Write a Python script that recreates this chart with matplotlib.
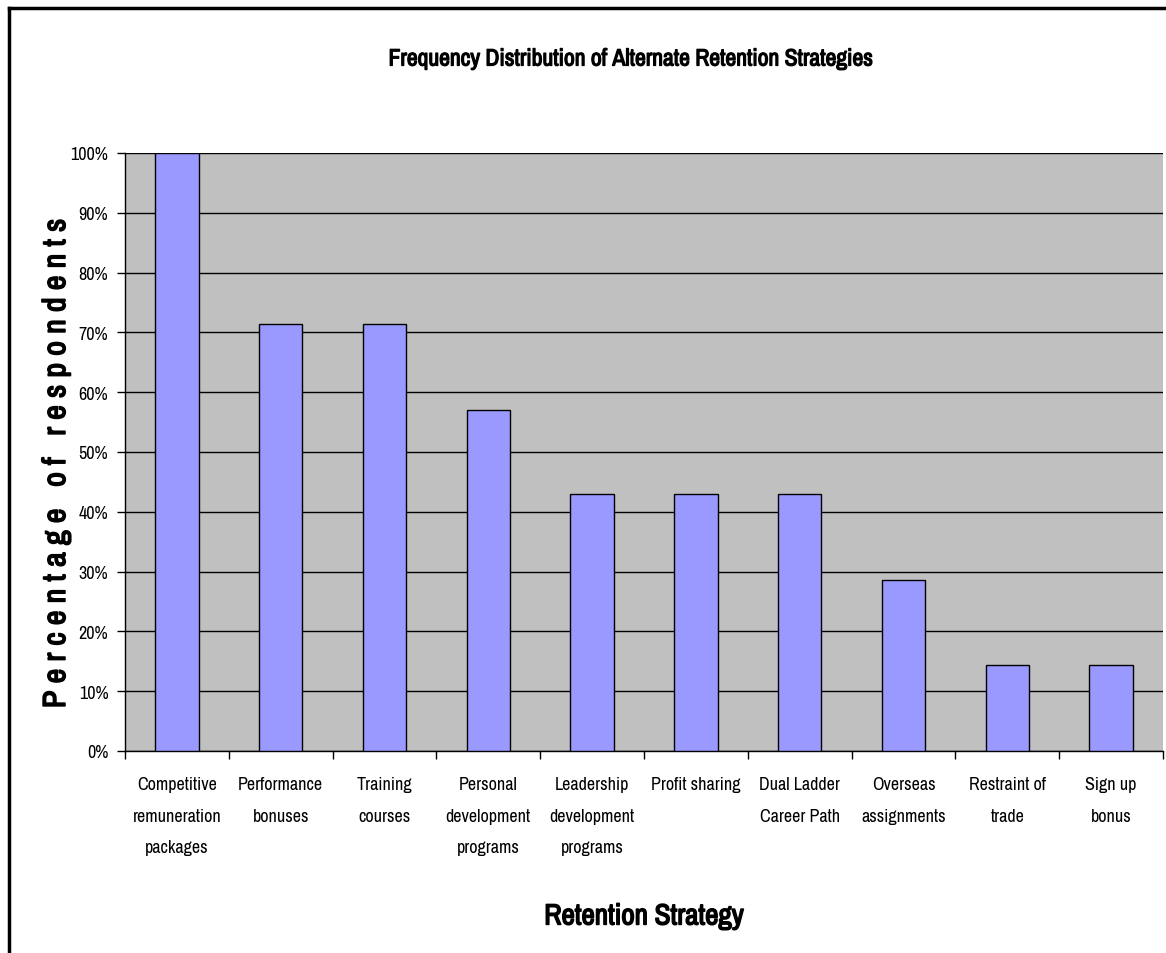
import matplotlib
matplotlib.use("Agg")
import matplotlib.pyplot as plt
import matplotlib.patheffects as pe
from matplotlib.lines import Line2D
from matplotlib.ticker import FixedLocator, NullFormatter, PercentFormatter
from matplotlib import font_manager
import numpy as np

strategies = ["Competitive\nremuneration\npackages", "Performance\nbonuses", "Training\ncourses",
              "Personal\ndevelopment\nprograms", "Leadership\ndevelopment\nprograms", "Profit sharing",
              "Dual Ladder\nCareer Path", "Overseas\nassignments", "Restraint of\ntrade", "Sign up\nbonus"]
share = [100.0, 71.4, 71.4, 57.1, 42.9, 42.9, 42.9, 28.6, 14.3, 14.3]
y_ticks = [0, 10, 20, 30, 40, 50, 60, 70, 80, 90, 100]

# pick a narrow face
names = {f.name for f in font_manager.fontManager.ttflist}
narrow = "DejaVu Sans"
for cand in ["Liberation Sans Narrow", "Archivo Narrow", "PT Sans Narrow", "Roboto Condensed", "Asap Condensed"]:
    if cand in names:
        narrow = cand
        break
plt.rcParams['font.family'] = [narrow, 'DejaVu Sans']

# thicken strokes for the heading texts
heavy = [pe.withStroke(linewidth=1.1, foreground="black")]

fig = plt.figure(figsize=(11.66, 9.54), dpi=100)
ax = fig.add_axes([125 / 1166, 1 - 752 / 954, 1038 / 1166, 598 / 954])

x = np.arange(len(share))
ax.bar(x, share, width=0.42, color="#9999FF", edgecolor="black", linewidth=1.0, zorder=3)

ax.set_facecolor("#C0C0C0")
ax.set_xlim(-0.5, len(share) - 0.5)
ax.set_ylim(0, 100)
ax.yaxis.set_major_locator(FixedLocator(y_ticks))
ax.yaxis.set_major_formatter(PercentFormatter(decimals=0))
ax.grid(axis="y", color="black", linewidth=1.0, zorder=1)

# ticks sit on category boundaries, labels at the centres
ax.xaxis.set_major_locator(FixedLocator(np.arange(-0.5, len(share), 1.0)))
ax.xaxis.set_major_formatter(NullFormatter())
ax.xaxis.set_minor_locator(FixedLocator(x))
ax.set_xticklabels(strategies, minor=True, fontsize=13, linespacing=2.2)
ax.tick_params(axis="x", which="minor", length=0, pad=18)
ax.tick_params(axis="x", which="major", length=6, width=1, direction="out")
ax.tick_params(axis="y", length=6, width=1, direction="out", labelsize=13, pad=6)

for side in ["top", "right"]:
    ax.spines[side].set_visible(False)
ax.spines["left"].set_linewidth(1.0)
ax.spines["bottom"].set_linewidth(1.0)

ax.set_ylabel("P e r c e n t a g e   o f   r e s p o n d e n t s", fontsize=23,
              fontweight="bold", path_effects=heavy)
ax.yaxis.set_label_coords(-0.053, 0.48)
ax.set_xlabel("Retention Strategy", fontsize=21, fontweight="bold", labelpad=34, path_effects=heavy)
fig.text(630 / 1166, 1 - 60 / 954, "Frequency Distribution of Alternate Retention Strategies",
         ha="center", va="center", fontsize=17, fontweight="bold",
         path_effects=[pe.withStroke(linewidth=0.9, foreground="black")])

# outer frame (top and left edges)
fig.add_artist(Line2D([9 / 1166, 1.0], [1 - 9 / 954, 1 - 9 / 954], color="black", linewidth=2.5,
                      transform=fig.transFigure))
fig.add_artist(Line2D([9 / 1166, 9 / 1166], [0.0, 1 - 9 / 954], color="black", linewidth=2.5,
                      transform=fig.transFigure))

fig.savefig("out.png", dpi=100)
